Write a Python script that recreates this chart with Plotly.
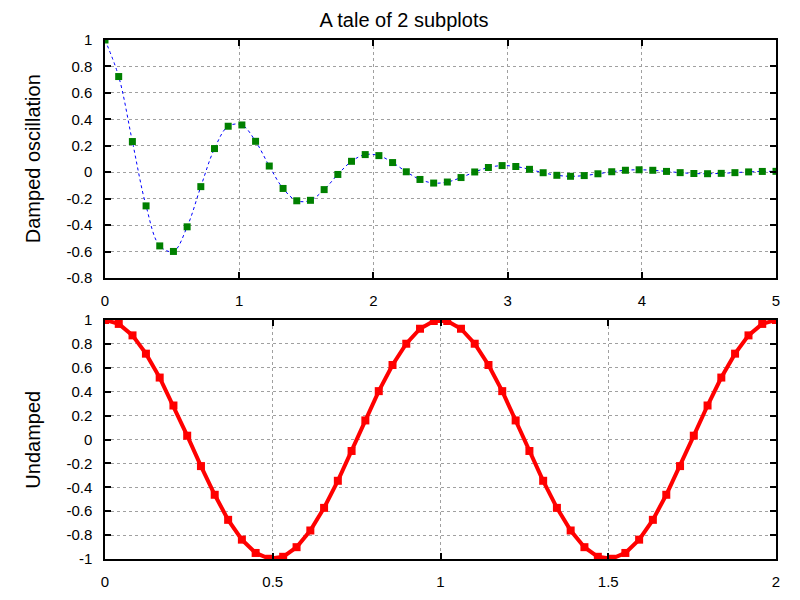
import plotly.graph_objects as go
from plotly.subplots import make_subplots

# damped oscillation samples (0..5, 50 points)
x_damped = [0.0, 0.102, 0.204, 0.306, 0.408, 0.510, 0.612, 0.714, 0.816, 0.918,
            1.020, 1.122, 1.224, 1.327, 1.429, 1.531, 1.633, 1.735, 1.837, 1.939,
            2.041, 2.143, 2.245, 2.347, 2.449, 2.551, 2.653, 2.755, 2.857, 2.959,
            3.061, 3.163, 3.265, 3.367, 3.469, 3.571, 3.673, 3.776, 3.878, 3.980,
            4.082, 4.184, 4.286, 4.388, 4.490, 4.592, 4.694, 4.796, 4.898, 5.0]
y_damped = [1.0, 0.7237, 0.2321, -0.2545, -0.5572, -0.5991, -0.4128, -0.1089, 0.1789, 0.3478,
            0.3575, 0.2338, 0.0469, -0.1227, -0.2159, -0.2124, -0.1314, -0.0169, 0.0826, 0.1334,
            0.1257, 0.0731, 0.0034, -0.0547, -0.0820, -0.0741, -0.0403, 0.0020, 0.0358, 0.0502,
            0.0434, 0.0219, -0.0037, -0.0232, -0.0306, -0.0253, -0.0117, 0.0037, 0.0149, 0.0185,
            0.0147, 0.0062, -0.0031, -0.0095, -0.0112, -0.0085, -0.0032, 0.0024, 0.0060, 0.0067]

# undamped samples (0..2, 50 points)
x_undamped = [0.0, 0.041, 0.082, 0.122, 0.163, 0.204, 0.245, 0.286, 0.327, 0.367,
              0.408, 0.449, 0.490, 0.531, 0.571, 0.612, 0.653, 0.694, 0.735, 0.776,
              0.816, 0.857, 0.898, 0.939, 0.980, 1.020, 1.061, 1.102, 1.143, 1.184,
              1.224, 1.265, 1.306, 1.347, 1.388, 1.429, 1.469, 1.510, 1.551, 1.592,
              1.633, 1.673, 1.714, 1.755, 1.796, 1.837, 1.878, 1.918, 1.959, 2.0]
y_undamped = [1.0, 0.9673, 0.8713, 0.7183, 0.5183, 0.2845, 0.0320, -0.2225, -0.4625, -0.6723,
              -0.8381, -0.9495, -0.9979, -0.9816, -0.9010, -0.7614, -0.5721, -0.3455, -0.0960, 0.1596,
              0.4048, 0.6235, 0.8014, 0.9269, 0.9918, 0.9918, 0.9269, 0.8014, 0.6235, 0.4048,
              0.1596, -0.0960, -0.3455, -0.5721, -0.7614, -0.9010, -0.9816, -0.9979, -0.9495, -0.8381,
              -0.6723, -0.4625, -0.2225, 0.0320, 0.2845, 0.5183, 0.7183, 0.8713, 0.9673, 1.0]

# tick labels (plain hyphen minus, as in the reference)
yticks_top = [-0.8, -0.6, -0.4, -0.2, 0, 0.2, 0.4, 0.6, 0.8, 1]
ylabels_top = ["-0.8", "-0.6", "-0.4", "-0.2", "0", "0.2", "0.4", "0.6", "0.8", "1"]
yticks_bottom = [-1, -0.8, -0.6, -0.4, -0.2, 0, 0.2, 0.4, 0.6, 0.8, 1]
ylabels_bottom = ["-1", "-0.8", "-0.6", "-0.4", "-0.2", "0", "0.2", "0.4", "0.6", "0.8", "1"]
xticks_top = [0, 1, 2, 3, 4, 5]
xticks_bottom = [0, 0.5, 1, 1.5, 2]

FONT = "Liberation Sans, Arial, sans-serif"
TICKFONT = dict(family=FONT, size=15, color="black")

# the page body has an 8px margin, so the figure is a bit smaller than the window
W, H = 792, 592

fig = make_subplots(rows=2, cols=1, vertical_spacing=0.08)

fig.add_trace(go.Scatter(
    x=x_damped, y=y_damped, mode="lines+markers",
    line=dict(color="#0000ff", width=1, dash="dot", shape="spline"),
    marker=dict(symbol="square", size=7, color="#008000"),
    showlegend=False,
), row=1, col=1)

fig.add_trace(go.Scatter(
    x=x_undamped, y=y_undamped, mode="lines+markers",
    line=dict(color="#ff0000", width=4),
    marker=dict(symbol="square", size=8, color="#ff0000"),
    showlegend=False,
), row=2, col=1)

_AXIS = dict(
    showline=True, linecolor="black", linewidth=1.5, mirror="ticks",
    ticks="inside", ticklen=6, tickcolor="black", tickwidth=1.5,
    showgrid=True, gridcolor="#a0a0a0", gridwidth=1, griddash="3px,3px",
    zeroline=False, tickfont=TICKFONT,
    ticklabelstandoff=8, automargin=False,
)

fig.update_xaxes(**_AXIS)
fig.update_yaxes(**_AXIS)

fig.update_xaxes(range=[0, 5], tickvals=xticks_top, ticktext=[str(v) for v in xticks_top],
                 domain=[0, 1], row=1, col=1)
fig.update_yaxes(range=[-0.8, 1], tickvals=yticks_top, ticktext=ylabels_top,
                 domain=[0.5414, 1], row=1, col=1)
fig.update_xaxes(range=[0, 2], tickvals=xticks_bottom, ticktext=[str(v) for v in xticks_bottom],
                 domain=[0, 1], row=2, col=1)
fig.update_yaxes(range=[-1, 1], tickvals=yticks_bottom, ticktext=ylabels_bottom,
                 domain=[0, 0.4605], row=2, col=1)

fig.add_annotation(text="Damped oscillation", xref="paper", yref="paper",
                   x=-0.107, y=0.7707, textangle=-90, showarrow=False,
                   xanchor="center", yanchor="middle",
                   font=dict(family=FONT, size=20, color="black"))
fig.add_annotation(text="Undamped", xref="paper", yref="paper",
                   x=-0.107, y=0.2303, textangle=-90, showarrow=False,
                   xanchor="center", yanchor="middle",
                   font=dict(family=FONT, size=20, color="black"))

fig.update_layout(
    width=W, height=H,
    paper_bgcolor="white", plot_bgcolor="white",
    font=dict(family=FONT, color="black"),
    margin=dict(l=97, r=24, t=32, b=41, autoexpand=False),
    title=dict(text="A tale of 2 subplots", x=0.5, xanchor="center",
               y=1 - 12 / H, yanchor="middle",
               font=dict(family=FONT, size=20, color="black")),
)

fig.write_html("out.html")
